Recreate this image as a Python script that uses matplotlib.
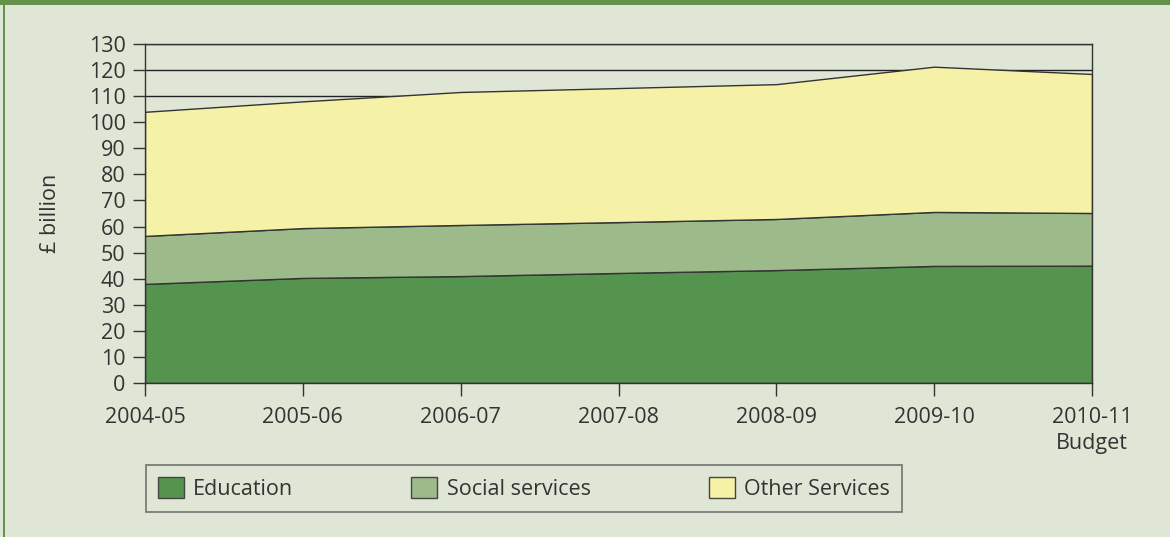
import numpy as np
import matplotlib.pyplot as plt
from matplotlib.patches import Rectangle, Patch

plt.rcParams['font.family'] = ['Open Sans', 'DejaVu Sans']

# Spending by year, £ billion
years = ['2004-05', '2005-06', '2006-07', '2007-08', '2008-09', '2009-10', '2010-11\nBudget']
education = [38.0, 40.3, 41.0, 42.2, 43.3, 44.9, 45.0]
social_services = [18.4, 19.1, 19.6, 19.5, 19.6, 20.7, 20.2]
other_services = [47.6, 48.6, 51.0, 51.4, 51.7, 55.7, 53.3]

bg = '#e0e6d6'
colors = ['#55944e', '#9dbb8a', '#f5f2a8']
labels = ['Education', 'Social services', 'Other Services']
edge = '#333333'
fs = 15.5

fig = plt.figure(figsize=(11.7, 5.37), dpi=100, facecolor=bg)
ax = fig.add_axes([145 / 1170, 1 - 383 / 537, (1092 - 145) / 1170, (383 - 44) / 537])
ax.set_facecolor(bg)

x = np.arange(len(years))
ax.yaxis.grid(True, color='#222222', linewidth=1.0, zorder=0)
ax.set_axisbelow(True)
ax.stackplot(x, education, social_services, other_services, colors=colors,
             edgecolor=edge, linewidth=1.0, zorder=2)

ax.set_xlim(0, len(years) - 1)
ax.set_ylim(0, 130)
ax.set_yticks(np.arange(0, 131, 10))
ax.set_xticks(x)
ax.set_xticklabels(years, multialignment='center', linespacing=1.3)
ax.tick_params(axis='both', labelsize=fs, colors='#333333', length=9, width=1.0, direction='out')
ax.tick_params(axis='x', pad=8.5)
ax.tick_params(axis='y', pad=5)
for s in ax.spines.values():
    s.set_color(edge)
    s.set_linewidth(1.0)
    s.set_zorder(3)
ax.set_ylabel('£ billion', fontsize=fs, color='#333333', labelpad=20)

handles = [Patch(facecolor=c, edgecolor='#444444', linewidth=1.0) for c in colors]
leg = fig.legend(handles, labels, loc='center', ncol=3, mode='expand',
                 bbox_to_anchor=(146 / 1170, 1 - 513 / 537, (902 - 146) / 1170, 49 / 537),
                 fontsize=fs, frameon=True, fancybox=False, handlelength=1.2,
                 handleheight=1.1, handletextpad=0.45, borderpad=0.55, borderaxespad=0)
leg._legend_box.sep = 0
leg.get_frame().set_edgecolor('#555555')
leg.get_frame().set_facecolor(bg)
leg.get_frame().set_linewidth(1.2)
for t in leg.get_texts():
    t.set_color('#333333')

# green frame: top band and left edge
fig.patches.append(Rectangle((0, 1 - 5 / 537), 1, 5 / 537, transform=fig.transFigure,
                             facecolor='#64924a', edgecolor='none'))
fig.patches.append(Rectangle((3 / 1170, 0), 2 / 1170, 1, transform=fig.transFigure,
                             facecolor='#64924a', edgecolor='none'))

fig.savefig('out.png', dpi=100, facecolor=bg)
